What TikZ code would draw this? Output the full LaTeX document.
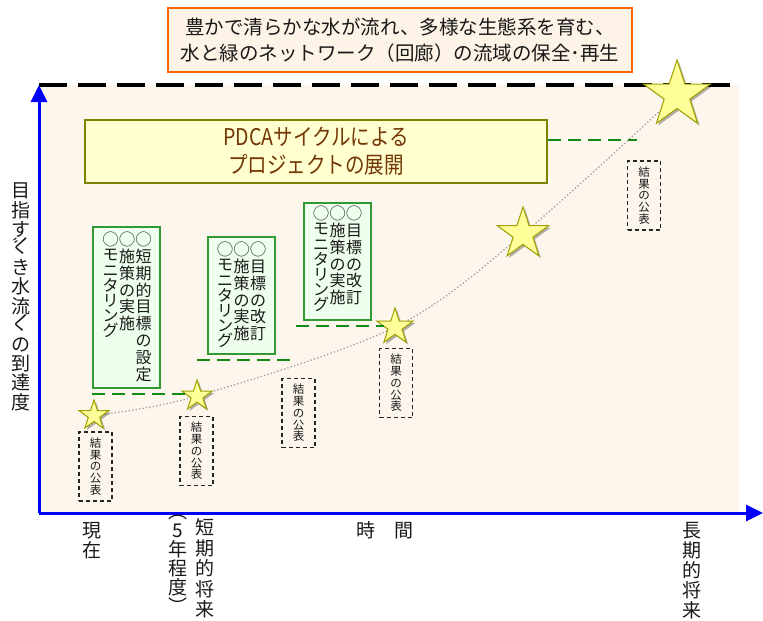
\documentclass[tikz,border=0pt]{standalone}
\usepackage{fontspec}
\usepackage{graphicx}
\setmainfont{Noto Sans CJK JP}
\newfontfamily\pdcafont[FakeStretch=0.85]{Noto Sans CJK JP}
\usetikzlibrary{arrows.meta,shapes.geometric,shadows}
\definecolor{bgpeach}{RGB}{253,246,237}
\definecolor{titlefill}{RGB}{253,243,230}
\definecolor{titleline}{RGB}{255,102,0}
\definecolor{olivebd}{RGB}{128,128,0}
\definecolor{pdcafill}{RGB}{255,255,208}
\definecolor{pdcatext}{RGB}{115,55,5}
\definecolor{gboxline}{RGB}{51,153,51}
\definecolor{gboxfill}{RGB}{238,255,238}
\definecolor{gdash}{RGB}{20,140,20}
\definecolor{starfill}{RGB}{255,255,153}
\definecolor{starline}{RGB}{160,160,0}
\definecolor{axisblue}{RGB}{0,0,255}
\lineskiplimit=-100pt
\begin{document}
\begin{tikzpicture}[x=1pt,y=-1pt,
  every node/.style={text=black!90},
  titlebox/.style={draw=titleline, line width=2.2pt, fill=titlefill, minimum width=464pt, minimum height=64pt, inner sep=0pt, align=center, font=\fontsize{19.5}{26}\selectfont},
  pdcabox/.style={draw=olivebd, line width=2.4pt, fill=pdcafill, minimum width=462pt, minimum height=63pt, inner sep=0pt, align=center, text=pdcatext, font=\pdcafont\fontsize{23}{28}\selectfont},
  gbox/.style={draw=gboxline, line width=1.1pt, fill=gboxfill, minimum width=67pt, inner sep=0pt},
  kcol/.style={inner sep=0pt, anchor=north, align=center, font=\fontsize{16}{16.8}\selectfont},
  kacol/.style={inner sep=0pt, anchor=north, align=center, font=\fontsize{16}{15.2}\selectfont},
  resbox/.style={draw=black!85, line width=1.2pt, dash pattern=on 4pt off 3pt, minimum width=33pt, minimum height=69pt, inner sep=0pt, align=center, font=\fontsize{11.5}{11.8}\selectfont},
  starsty/.style={star, star points=5, star point ratio=2.6, fill=starfill, draw=starline, line width=1pt, inner sep=0pt, drop shadow={shadow xshift=2pt, shadow yshift=-2pt, fill=black, opacity=0.3}},
  gline/.style={draw=gdash, line width=2pt, dash pattern=on 13pt off 7pt},
  curvesty/.style={draw=gray!75, line width=1.3pt, dash pattern=on 1.3pt off 2.2pt},
  axis/.style={draw=axisblue, line width=3pt, -{Triangle[length=17pt,width=16pt]}},
  vlabel/.style={inner sep=0pt, anchor=north, align=center, font=\fontsize{19}{19.5}\selectfont}
]
\useasboundingbox (0,0) rectangle (763,621);

% background
\fill[bgpeach] (39,85) rectangle (739,512);
\coordinate (dl) at (39,85);
\coordinate (dr) at (739,85);
\draw[black, line width=3.5pt, dash pattern=on 28pt off 11pt] (dl) -- (dr);

% title
\node[titlebox] (title) at (400,40) {豊かで清らかな水が流れ、多様な生態系を育む、\\水と緑のネットワーク（回廊）の流域の保全･再生};

% PDCA box
\node[pdcabox] (pdca) at (316,151.5) {PDCAサイクルによる\\プロジェクトの展開};

% curve through stars
\coordinate (c1) at (94,415.5);
\coordinate (c2) at (197,396);
\coordinate (c3) at (395,327);
\coordinate (c4) at (523,234);
\coordinate (c5) at (677,95);
\draw[curvesty] plot[smooth, tension=0.55] coordinates {(c1) (c2) (c3) (c4) (c5)};

% green boxes
\node[gbox, minimum height=161pt] (gA) at (126.5,307.5) {};
\node[gbox, minimum height=117pt] (gB) at (241.5,295.5) {};
\node[gbox, minimum height=117pt] (gC) at (337.5,261.5) {};

\node[kcol] (gA3) at (143.5,232) {◯\\短\\期\\的\\目\\標\\の\\設\\定};
\node[kcol] (gA2) at (127,232) {◯\\施\\策\\の\\実\\施};
\node[kacol] (gA1) at (110.5,232) {◯\\モ\\ニ\\タ\\リ\\ン\\グ};

\node[kcol] (gB3) at (258,242) {◯\\目\\標\\の\\改\\訂};
\node[kcol] (gB2) at (241.5,242) {◯\\施\\策\\の\\実\\施};
\node[kacol] (gB1) at (225,242) {◯\\モ\\ニ\\タ\\リ\\ン\\グ};

\node[kcol] (gC3) at (354,206) {◯\\目\\標\\の\\改\\訂};
\node[kcol] (gC2) at (337.5,206) {◯\\施\\策\\の\\実\\施};
\node[kacol] (gC1) at (321,206) {◯\\モ\\ニ\\タ\\リ\\ン\\グ};

% result boxes
\node[resbox] (r1) at (95.5,466.5) {結\\果\\の\\公\\表};
\node[resbox] (r2) at (196.5,451) {結\\果\\の\\公\\表};
\node[resbox] (r3) at (298.5,413) {結\\果\\の\\公\\表};
\node[resbox] (r4) at (396,383) {結\\果\\の\\公\\表};
\node[resbox] (r5) at (644,195.5) {結\\果\\の\\公\\表};

% stars
\node[starsty, minimum size=31pt] (s1) at (c1) {};
\node[starsty, minimum size=32pt] (s2) at (c2) {};
\node[starsty, minimum size=38pt] (s3) at (c3) {};
\node[starsty, minimum size=54pt] (s4) at (c4) {};
\node[starsty, minimum size=70pt] (s5) at (c5) {};

% green dashed lines
\coordinate (k) at ([xshift=-7pt]gC.south west);
\coordinate (pend) at (637,140);
\draw[gline] ([yshift=-5pt]gA.south west) -- ([yshift=-5pt]gA.south west -| s2.west);
\draw[gline] ([yshift=-5pt]gB.south -| s2) -- ([yshift=-5pt]gB.south -| k);
\draw[gline] ([yshift=-5pt]k) -- ([yshift=-5pt]k -| s3.west);
\draw[gline] (pdca.east |- pend) -- (pend);

% axes
\coordinate (O) at (39,513);
\coordinate (Ytop) at (39,85);
\coordinate (Xend) at (763,513);
\draw[axis] (O) -- (Ytop);
\draw[axis] (O) -- (Xend);

% axis labels
\node[vlabel, font=\fontsize{19}{19.2}\selectfont] (ylab) at (21,183) {目\\指\\す\\\rotatebox{90}{べ}\\き\\水\\流\\\rotatebox{90}{へ}\\の\\到\\達\\度};
\node[vlabel, font=\fontsize{19}{20}\selectfont] (now) at (92,522.5) {現\\在};
\node[vlabel, font=\fontsize{19}{20.5}\selectfont] (short) at (205,518.5) {短\\期\\的\\将\\来};
\node[vlabel, font=\fontsize{19}{19}\selectfont] (shortp) at (178,515) {︵\\5\\年\\程\\度\\︶};
\node[inner sep=0pt, font=\fontsize{19}{20}\selectfont] (time) at (385,530) {時　間};
\node[vlabel, font=\fontsize{19}{20}\selectfont] (long) at (692,522.5) {長\\期\\的\\将\\来};
\end{tikzpicture}
\end{document}
